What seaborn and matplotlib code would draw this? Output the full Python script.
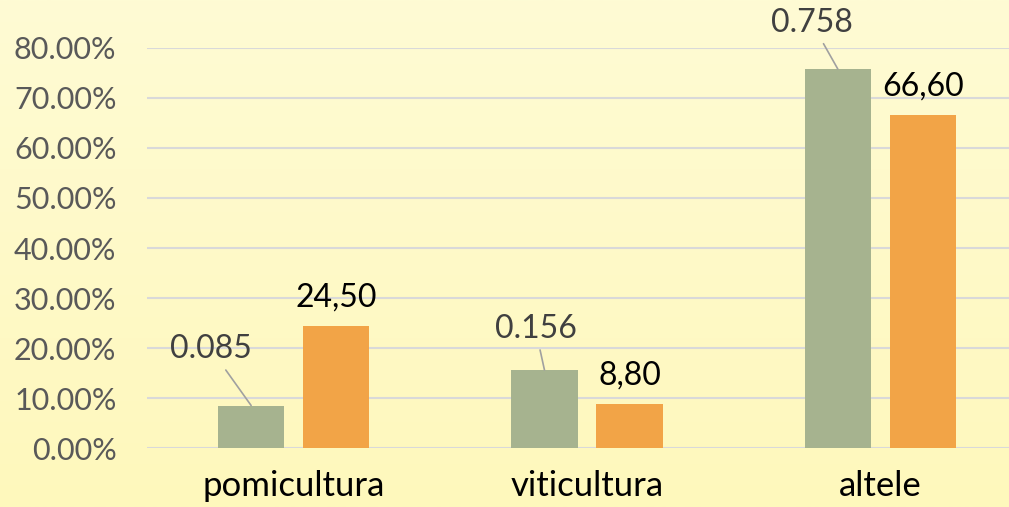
import numpy as np
import pandas as pd
import matplotlib.pyplot as plt
import seaborn as sbn
from matplotlib.colors import LinearSegmentedColormap

# Values
categories = ["pomicultura", "viticultura", "altele"]
share_a = [8.5, 15.6, 75.8]          # green bars (%)
share_b = [24.5, 8.8, 66.6]          # orange bars (%)
labels_a = ["0.085", "0.156", "0.758"]
labels_b = ["24,50", "8,80", "66,60"]

df = pd.DataFrame({
    "cat": categories * 2,
    "val": share_a + share_b,
    "serie": ["a"] * 3 + ["b"] * 3,
})

palette = {"a": "#A6B38F", "b": "#F2A447"}

sbn.set_style("white")
plt.rcParams['font.family'] = ['Lato', 'DejaVu Sans']

fig = plt.figure(figsize=(10.09, 5.07), dpi=100)

# background gradient
bg = fig.add_axes([0, 0, 1, 1])
grad = np.linspace(0, 1, 256).reshape(-1, 1)
cmap = LinearSegmentedColormap.from_list("bg", ["#FEFBD4", "#FFF8BC"])
bg.imshow(grad, aspect="auto", cmap=cmap, extent=[0, 1, 0, 1], origin="upper")
bg.set_axis_off()

ax = fig.add_axes([147 / 1009, 59 / 507, 880 / 1009, 400 / 507])
ax.patch.set_alpha(0)
sbn.barplot(data=df, x="cat", y="val", hue="serie", palette=palette, width=0.58,
            gap=0.22, saturation=1, legend=False, ax=ax, zorder=3, linewidth=0)
ax.set_xlim(-0.5, 2.5)
ax.set_ylim(0, 80)
ax.set_yticks(np.arange(0, 81, 10))
ax.set_yticklabels([f"{v:.2f}%" for v in np.arange(0, 81, 10)], color="#595959", fontsize=22)
ax.tick_params(axis="x", labelsize=25, labelcolor="black", length=0, pad=16)
ax.tick_params(axis="y", length=0, pad=22)
ax.grid(axis="y", color="#D9D9D9", linewidth=1.5, zorder=0)
ax.set_axisbelow(True)
for s in ax.spines.values():
    s.set_visible(False)
ax.set_xlabel("")
ax.set_ylabel("")

# green labels with leader lines
offs_a = [(-40, 56), (-9, 41), (-26, 46)]
for i, (v, t, o) in enumerate(zip(share_a, labels_a, offs_a)):
    ax.annotate(t, xy=(i - 0.145, v), xytext=(o[0], o[1]), textcoords="offset pixels",
                ha="center", va="center", fontsize=23, color="#404040",
                arrowprops=dict(arrowstyle="-", color="#A0A0A0", lw=1.2, shrinkA=2, shrinkB=0))

for i, (v, t) in enumerate(zip(share_b, labels_b)):
    ax.annotate(t, xy=(i + 0.145, v), xytext=(0, 28), textcoords="offset pixels",
                ha="center", va="center", fontsize=23, color="black")

fig.savefig("out.png", dpi=100)
